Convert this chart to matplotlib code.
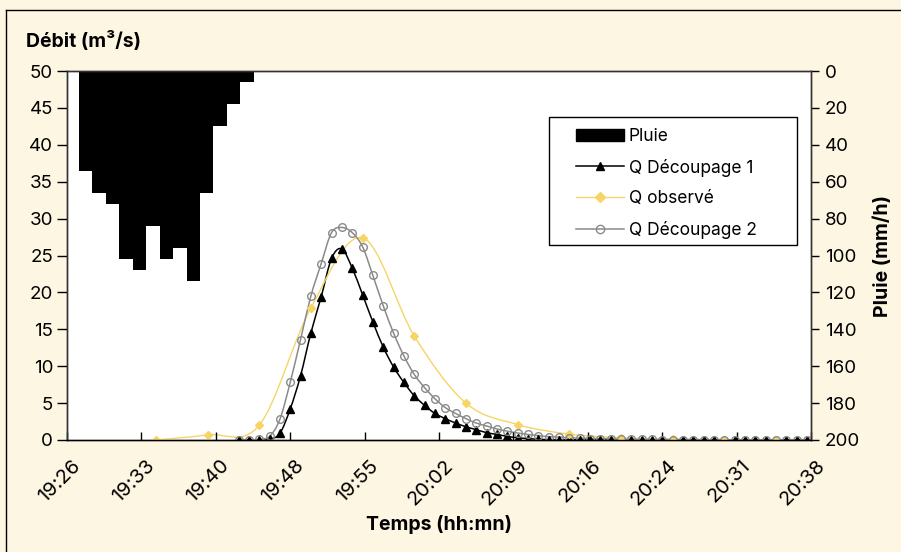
import numpy as np
import pandas as pd
import matplotlib
matplotlib.use("Agg")
import matplotlib.pyplot as plt
import matplotlib.transforms as mtransforms
from matplotlib.path import Path
from matplotlib.patches import PathPatch, Patch, Rectangle
from matplotlib.lines import Line2D

plt.rcParams['font.family'] = ['Inter', 'Liberation Sans', 'DejaVu Sans']

# --- data ---
pluie_debut = pd.date_range("19:27:34", periods=13, freq="78s")
pluie = [54, 66, 72, 102, 108, 84, 102, 96, 114, 66, 30, 18, 6]

temps_calc = pd.date_range("19:43", "20:38", freq="1min")
q_dec1 = [0, 0, 0, 0.1, 0.9, 4.2, 8.7, 14.5, 19.4, 24.6, 25.9, 23.3, 19.7, 16.0,
          12.6, 9.9, 7.8, 6.0, 4.7, 3.6, 2.9, 2.3, 1.8, 1.4, 1.0, 0.75, 0.5, 0.3,
          0.2, 0.1, 0.05,
          0.04, 0.04, 0.03, 0.03, 0.03, 0.02, 0.02, 0.02, 0.02, 0.02, 0.01, 0.01,
          0.01, 0.01, 0.01, 0.01, 0.01, 0.01, 0.01, 0.01, 0.01, 0.01, 0.01, 0.01, 0.01]
q_dec2 = [0, 0, 0.1, 0.5, 2.8, 7.8, 13.6, 19.5, 23.9, 28.1, 28.8, 28.1, 26.2, 22.3,
          18.2, 14.5, 11.4, 8.9, 7.1, 5.6, 4.4, 3.6, 2.9, 2.3, 1.9, 1.5, 1.2, 0.95,
          0.75, 0.6, 0.45, 0.4, 0.3, 0.25, 0.2, 0.18, 0.15, 0.12, 0.1, 0.08,
          0.07, 0.06, 0.06, 0.05, 0.05, 0.04, 0.04, 0.04, 0.03, 0.03, 0.03, 0.03,
          0.02, 0.02, 0.02, 0.02]

temps_obs = pd.date_range("19:35", "20:35", freq="5min")
q_obs = [0, 0.7, 2.0, 17.9, 27.4, 14.1, 5.0, 2.1, 0.8, 0.3, 0.1, 0.05, 0.0]

x_labels = ["19:26", "19:33", "19:40", "19:48", "19:55", "20:02",
            "20:09", "20:16", "20:24", "20:31", "20:38"]

CREAM = "#FDF6E3"
YELLOW = "#F6D566"
GREY = "#8A8A8A"


def minutes(t):
    return (t.hour * 60 + t.minute + t.second / 60).to_numpy(dtype=float)


def smooth_patch(x, y, color, lw):
    # excel-like smoothed line drawn as bezier segments
    x = np.asarray(x, float)
    y = np.asarray(y, float)
    n = len(x)
    verts = [(x[0], y[0])]
    codes = [Path.MOVETO]
    for i in range(n - 1):
        a = max(i - 1, 0)
        b = min(i + 2, n - 1)
        c1 = (x[i] + (x[i + 1] - x[a]) / 6, y[i] + (y[i + 1] - y[a]) / 6)
        c2 = (x[i + 1] - (x[b] - x[i]) / 6, y[i + 1] - (y[b] - y[i]) / 6)
        verts += [c1, c2, (x[i + 1], y[i + 1])]
        codes += [Path.CURVE4] * 3
    return PathPatch(Path(verts, codes), facecolor="none", edgecolor=color, lw=lw)


fig = plt.figure(figsize=(9.01, 5.52), dpi=100, facecolor=CREAM)
ax = fig.add_axes([67 / 901, 112 / 552, 744 / 901, 369 / 552])
ax2 = ax.twinx()
ax.set_zorder(ax2.get_zorder() + 1)
ax.patch.set_visible(False)
ax2.patch.set_facecolor("white")
ax2.patch.set_visible(True)

# rain on the right axis, hanging from the top
ax2.bar(minutes(pluie_debut), pluie, width=1.3, align="edge", color="black", linewidth=0)
ax2.set_ylim(200, 0)
ax2.set_yticks(range(0, 201, 20))

xc = minutes(temps_calc)
xo = minutes(temps_obs)

ax.add_patch(smooth_patch(xc, q_dec1, "black", 1.1))
ax.plot(xc, q_dec1, ls="none", marker="^", ms=5.5, color="black")
ax.add_patch(smooth_patch(xo, q_obs, YELLOW, 1.0))
ax.plot(xo, q_obs, ls="none", marker="D", ms=4.5, color=YELLOW)
ax.add_patch(smooth_patch(xc, q_dec2, GREY, 1.1))
ax.plot(xc, q_dec2, ls="none", marker="o", ms=5.5, mfc="none", mec=GREY, mew=1.0)

ax.set_xlim(1166.4, 1238.4)
ax.set_ylim(0, 50)
ax.set_yticks(range(0, 51, 5))
xticks = np.linspace(1166.4, 1238.4, len(x_labels))
ax.set_xticks(xticks)
ax.set_xticklabels([])
# rotated time labels, placed like the excel ones
offset = mtransforms.ScaledTranslation(11 / 100, -23 / 100, fig.dpi_scale_trans)
for xt, lab in zip(xticks, x_labels):
    ax.text(xt, 0, lab, transform=ax.get_xaxis_transform() + offset, rotation=45,
            ha="right", va="center", rotation_mode="anchor", fontsize=14.5,
            clip_on=False)

ax.tick_params(axis="y", direction="out", length=7, width=1, pad=3, labelsize=13.5)
ax.tick_params(axis="x", direction="in", length=6, width=1)
ax2.tick_params(axis="y", direction="out", length=6, width=1, pad=4, labelsize=13.5)
for a in (ax, ax2):
    for s in a.spines.values():
        s.set_color("#333333")
        s.set_linewidth(1)
ax.spines["bottom"].set_color("black")

fig.text(26 / 901, 1 - 47 / 552, "Débit (m³/s)", fontsize=14, fontweight="bold",
         va="baseline", ha="left")
fig.text(439 / 901, 1 - 525 / 552, "Temps (hh:mn)", fontsize=14, fontweight="bold",
         va="center", ha="center")
fig.text(883 / 901, 1 - 256 / 552, "Pluie (mm/h)", fontsize=14, fontweight="bold",
         va="center", ha="center", rotation=90)

handles = [
    Patch(facecolor="black", edgecolor="black"),
    Line2D([], [], color="black", lw=1.1, marker="^", ms=6),
    Line2D([], [], color=YELLOW, lw=1.0, marker="D", ms=5),
    Line2D([], [], color=GREY, lw=1.1, marker="o", ms=6, mfc="none", mec=GREY),
]
labels = ["Pluie", "Q Découpage 1", "Q observé", "Q Découpage 2"]
# legend box drawn separately so the padding matches the original
fig.add_artist(Rectangle((549 / 901, 1 - 245 / 552), 248 / 901, 128 / 552,
                         transform=fig.transFigure, facecolor="white",
                         edgecolor="black", lw=1, zorder=4))
leg = fig.legend(handles, labels, loc="upper left",
                 bbox_to_anchor=(576 / 901, 1 - 128 / 552), bbox_transform=fig.transFigure,
                 fontsize=12.5, frameon=False, handlelength=2.75, handletextpad=0.3,
                 labelspacing=0.78, borderpad=0, borderaxespad=0)
leg.set_zorder(5)

# outer frame of the figure (left and top edges)
fig.add_artist(Line2D([6 / 901, 6 / 901], [0, 1 - 10 / 552], color="black", lw=1,
                      transform=fig.transFigure))
fig.add_artist(Line2D([6 / 901, 1], [1 - 10 / 552, 1 - 10 / 552], color="black", lw=1,
                      transform=fig.transFigure))

fig.savefig("out.png", dpi=100, facecolor=CREAM)
